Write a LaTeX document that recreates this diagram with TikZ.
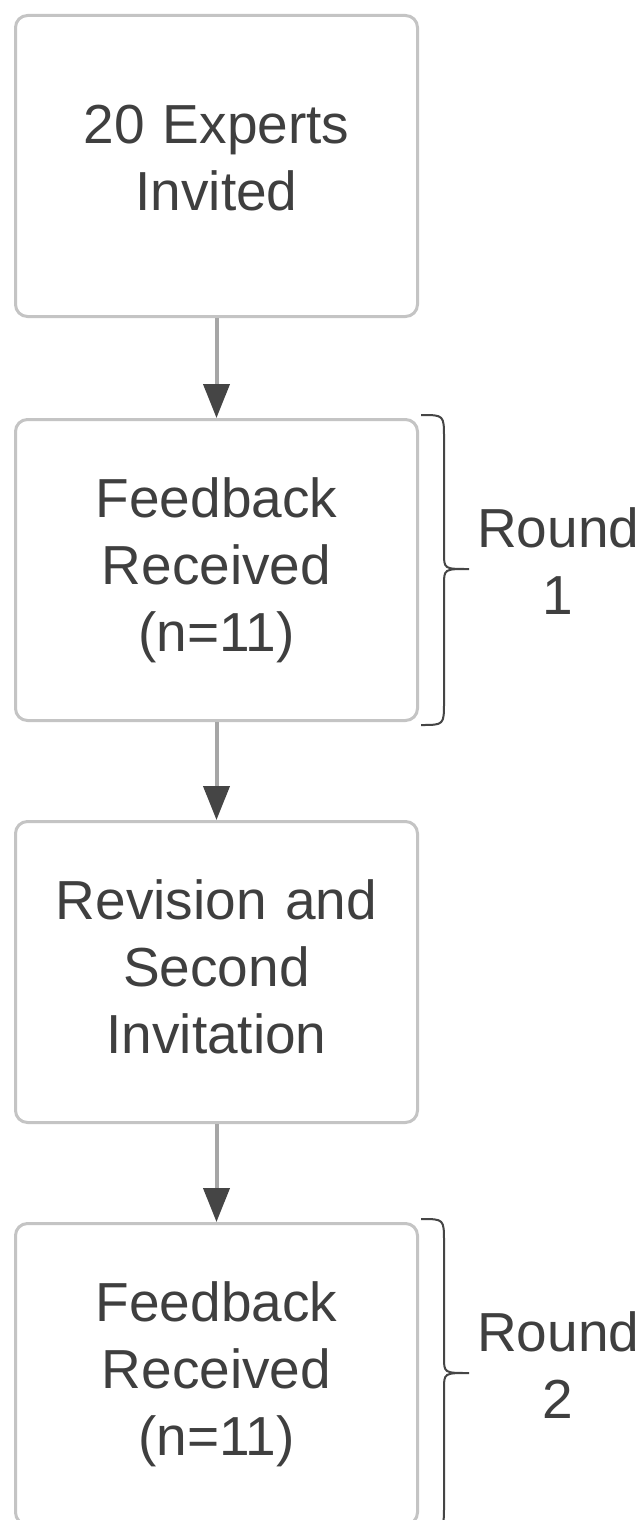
\documentclass[tikz,border=0pt]{standalone}
\usepackage{fontspec}
\setmainfont{Liberation Sans}
\usepackage{tikz}
\usetikzlibrary{positioning}
\usetikzlibrary{arrows.meta}
\usepackage{color}
\definecolor{bordgris}{HTML}{C4C4C4}
\definecolor{texte}{HTML}{3F3F3F}
\definecolor{fleche}{HTML}{A6A6A6}
\definecolor{pointe}{HTML}{454545}

\begin{document}
\begin{tikzpicture}[x=1pt,y=1pt,
	etape/.style={draw=bordgris,line width=3pt,rounded corners=12pt,fill=white,
		minimum width=402pt,minimum height=301pt,text width=380pt,inner sep=0pt,
		align=center,text=texte,font=\fontsize{55}{67}\selectfont},
	lien/.style={draw=fleche,line width=4pt,-{Triangle[width=26pt,length=34pt,color=pointe]}},
	accolade/.style={draw=pointe,line width=2pt},
	tour/.style={text=texte,align=center,inner sep=0pt,font=\fontsize{55}{67}\selectfont}]
%					Cadre de la page :
					\useasboundingbox[fill=white] (0,0) rectangle (641,-1520);
%					Les quatre étapes :
					\node[etape,text depth=83pt] (invit) at (216.5,-166) {20 Experts\\Invited};
					\node[etape,below=100pt of invit] (retour1) {Feedback\\Received\\(n=11)};
					\node[etape,text depth=144pt,below=98pt of retour1] (revision) {Revision and\\Second\\Invitation};
					\node[etape,below=98pt of revision] (retour2) {Feedback\\Received\\(n=11)};
%					Les flèches :
					\draw[lien] (invit) -- (retour1);
					\draw[lien] (retour1) -- (revision);
					\draw[lien] (revision) -- (retour2);
%					Accolades des tours :
					\foreach \n in {retour1,retour2}{
						\draw[accolade] ([shift={(2,155)}]\n.east) .. controls ([shift={(25,155)}]\n.east) .. ([shift={(25,132)}]\n.east)
							-- ([shift={(25,17)}]\n.east) .. controls ([shift={(25,1)}]\n.east) .. ([shift={(50,1)}]\n.east)
							.. controls ([shift={(25,1)}]\n.east) .. ([shift={(25,-15)}]\n.east)
							-- ([shift={(25,-132)}]\n.east) .. controls ([shift={(25,-155)}]\n.east) .. ([shift={(2,-155)}]\n.east);
					}
					\node[tour,anchor=west] (tour1) at ([xshift=58pt,yshift=9pt]retour1.east) {Round\\1};
					\node[tour,anchor=west] (tour2) at ([xshift=58pt,yshift=9pt]retour2.east) {Round\\2};
				\end{tikzpicture}
\end{document}
